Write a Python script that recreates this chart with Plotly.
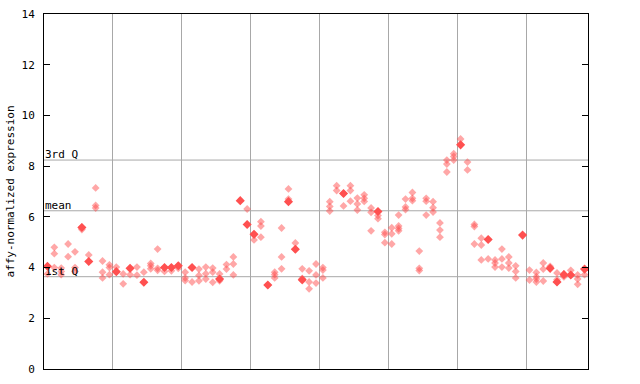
import plotly.graph_objects as go

# column (sample) index and expression values
sample_idx = [
    0, 0, 1, 1, 1, 2, 2, 2, 3, 3, 4, 4, 4, 5, 5, 6, 6, 7, 7, 7, 8, 8, 8, 9, 9, 9,
    10, 10, 11, 11, 12, 12, 13, 13, 14, 14, 15, 15, 15, 16, 16, 16, 17, 17, 18, 18, 19, 19,
    20, 20, 20, 21, 21, 22, 22, 22, 23, 23, 23, 24, 24, 24, 25, 25, 25, 26, 26, 27, 27, 27,
    28, 29, 29, 30, 30, 31, 31, 31, 32, 33, 33, 33, 34, 34, 34, 35, 35, 35, 36, 36,
    37, 37, 37, 38, 38, 38, 39, 39, 39,
    40, 40, 40, 41, 41, 41, 42, 42, 43, 43, 44, 44, 44, 45, 45, 45, 46, 46, 46,
    47, 47, 47, 48, 48, 48, 49, 49, 49,
    50, 50, 50, 51, 51, 51, 51, 52, 52, 52, 53, 53, 53, 54, 54, 54, 55, 55, 55,
    56, 56, 56, 57, 57, 57, 58, 58, 58, 59, 59, 59,
    60, 60, 61, 61, 62, 62, 62, 63, 63, 63, 64, 64, 65, 65, 65, 66, 66, 66,
    67, 67, 67, 68, 68, 68, 69,
    70, 70, 71, 71, 71, 71, 72, 72, 72, 73, 73, 74, 74, 74, 75, 75, 76, 76,
    77, 77, 77, 78, 78,
]
expression = [
    4.05, 3.75, 4.80, 4.55, 4.00, 3.98, 3.85, 3.72, 4.93, 4.43, 4.62, 4.00, 3.85,
    5.60, 5.50, 4.50, 4.24, 7.14, 6.45, 6.35, 4.26, 3.82, 3.59, 4.11, 4.00, 3.72,
    4.02, 3.84, 3.75, 3.36, 3.97, 3.72, 4.02, 3.70, 3.82, 3.42, 4.16, 4.07, 3.95,
    4.73, 3.97, 3.89, 4.00, 3.85, 4.00, 3.87, 4.07, 3.97,
    3.82, 3.59, 3.49, 4.00, 3.43, 3.94, 3.69, 3.48, 4.02, 3.76, 3.55, 3.98, 3.82, 3.42,
    3.75, 3.55, 3.48, 4.12, 3.94, 4.42, 4.14, 3.71,
    6.64, 6.31, 5.70, 5.31, 5.09, 5.81, 5.64, 5.20, 3.31, 3.82, 3.72, 3.59,
    5.56, 4.42, 3.95, 7.10, 6.70, 6.60, 4.97, 4.72,
    3.95, 3.57, 3.49, 3.87, 3.43, 3.16, 4.14, 3.71, 3.39,
    4.00, 3.90, 3.59, 6.60, 6.41, 6.23, 7.23, 7.04, 6.92, 6.43, 7.23, 7.04, 6.62,
    6.74, 6.51, 6.27, 6.87, 6.73, 6.61,
    6.35, 6.18, 5.45, 6.21, 6.05, 5.93, 5.39, 5.30, 4.98,
    5.57, 5.33, 4.93, 6.07, 5.64, 5.54, 5.45, 6.70, 6.39, 6.29, 6.96, 6.73, 6.64,
    4.65, 3.97, 3.88, 6.73, 6.62, 6.07,
    6.60, 6.36, 6.19, 5.76, 5.48, 5.20, 8.24, 8.08, 7.77, 8.49, 8.38, 8.24,
    9.07, 8.84, 8.16, 7.85, 5.70, 5.62, 4.93, 5.16, 4.89, 4.30, 5.11, 4.34,
    4.30, 4.18, 4.02, 4.73, 4.34, 4.02,
    4.42, 4.18, 3.98, 4.07, 3.85, 3.59, 5.28,
    3.90, 3.51, 3.81, 3.64, 3.55, 3.43, 4.18, 3.94, 3.47, 4.05, 3.97,
    3.79, 3.52, 3.43, 3.75, 3.63, 3.89, 3.71,
    3.71, 3.55, 3.34, 3.94, 3.72,
]

# points drawn as solid (overlapping) markers
solid_idx = [0, 5, 6, 10, 12, 14, 17, 18, 19, 21, 25, 28, 29, 30, 32, 35, 36, 37,
             43, 48, 60, 64, 69, 73, 74, 75, 76, 78]
solid_val = [4.05, 5.58, 4.24, 3.84, 3.97, 3.42, 4.00, 4.00, 4.07, 4.00, 3.55, 6.64,
             5.70, 5.31, 3.31, 6.60, 4.72, 3.52, 6.92, 6.21, 8.84, 5.11, 5.28, 3.97,
             3.43, 3.72, 3.71, 3.94]

group_bounds = [9.5, 19.5, 29.5, 39.5, 49.5, 59.5, 69.5]
quartile_names = ["1st Q", "mean", "3rd Q"]
quartile_vals = [3.64, 6.24, 8.24]
y_ticks = [0, 2, 4, 6, 8, 10, 12, 14]

FONT = "DejaVu Sans Mono"
RED = "#ff5050"

fig = go.Figure()
fig.add_trace(go.Scatter(
    x=sample_idx, y=expression, mode="markers",
    marker=dict(symbol="diamond", size=6, color="rgba(255,80,80,0.5)",
                line=dict(width=0)),
    showlegend=False, hoverinfo="y"))
fig.add_trace(go.Scatter(
    x=solid_idx, y=solid_val, mode="markers",
    marker=dict(symbol="diamond", size=7, color=RED, line=dict(width=0)),
    showlegend=False, hoverinfo="y"))

for name, v in zip(quartile_names, quartile_vals):
    fig.add_shape(type="line", xref="paper", x0=0, x1=1, yref="y", y0=v, y1=v,
                  line=dict(color="#a8a8a8", width=1), layer="below")
    fig.add_annotation(text=name, xref="paper", x=0, xanchor="left", xshift=-1,
                       yref="y", y=v, yanchor="bottom", yshift=-3,
                       showarrow=False, font=dict(family=FONT, size=11, color="black"))

fig.update_layout(
    width=640, height=384,
    margin=dict(l=44, r=52, t=14, b=15, autoexpand=False),
    paper_bgcolor="white", plot_bgcolor="white",
    font=dict(family=FONT, size=11, color="black"),
    xaxis=dict(range=[-0.5, 78.5], tickvals=group_bounds, showticklabels=False,
               ticks="", showgrid=True, gridcolor="#a8a8a8", gridwidth=1,
               zeroline=False, showline=True, linecolor="black", linewidth=1,
               mirror=True, automargin=False),
    yaxis=dict(range=[0, 14], tickvals=y_ticks, ticktext=[str(t) for t in y_ticks],
               ticks="inside", ticklen=6, tickcolor="black", showgrid=False,
               zeroline=False, showline=True, linecolor="black", linewidth=1,
               mirror="ticks", ticklabelstandoff=6, automargin=False,
               title=dict(text="affy-normalized expression", standoff=4,
                          font=dict(family=FONT, size=11))),
)

fig.write_html("out.html")
